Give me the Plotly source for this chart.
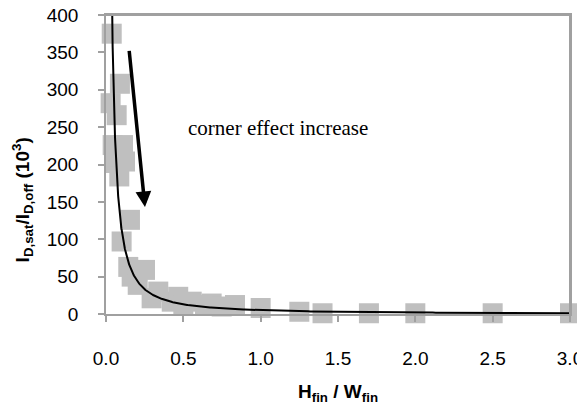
import numpy as np
import plotly.graph_objects as go

# Data (H_fin/W_fin vs I_D,sat/I_D,off in 10^3)
ratio_x = [0.030, 0.037, 0.043, 0.058, 0.069, 0.086, 0.090, 0.101, 0.110, 0.123,
           0.144, 0.155, 0.166, 0.205, 0.252, 0.295, 0.338, 0.425, 0.467, 0.500,
           0.554, 0.640, 0.683, 0.748, 0.834, 1.000, 1.250, 1.400, 1.700, 2.000,
           2.500, 3.000]
on_off = [282, 375, 226, 202, 266, 184, 308, 97, 226, 204,
          63, 126, 50, 39, 59, 21, 30, 16.5, 23, 12,
          16.5, 12, 14, 10, 12, 8, 3, 1, 1, 1,
          1, 1]

# Power trendline y = A * x^-B
TREND_A = 5.1
TREND_B = 1.35

x_ticks = [0.0, 0.5, 1.0, 1.5, 2.0, 2.5, 3.0]
y_ticks = [0, 50, 100, 150, 200, 250, 300, 350, 400]

trend_x = np.geomspace(min(ratio_x), max(ratio_x), 500)
trend_y = TREND_A * trend_x ** (-TREND_B)

fig = go.Figure()
fig.add_trace(go.Scatter(
    x=ratio_x, y=on_off, mode="markers",
    marker=dict(symbol="square", size=20, color="#BFBFBF"),
    cliponaxis=False, showlegend=False, hoverinfo="skip"))
fig.add_trace(go.Scatter(
    x=trend_x, y=trend_y, mode="lines",
    line=dict(color="black", width=2),
    showlegend=False, hoverinfo="skip"))

axis_font = dict(family="Arial, Liberation Sans, sans-serif", size=19, color="black")
frame_color = "#A0A0A0"

fig.update_xaxes(
    range=[0, 3], tickvals=x_ticks, ticktext=[f"{v:.1f}" for v in x_ticks],
    showgrid=False, zeroline=False, showline=True, linecolor=frame_color, linewidth=1.5,
    mirror=True, ticks="outside", ticklen=6, tickcolor=frame_color, tickwidth=1.5,
    tickfont=axis_font, ticklabelstandoff=20, automargin=False,
    ticklabeloverflow="allow")
fig.update_yaxes(
    range=[0, 400], tickvals=y_ticks,
    showgrid=False, zeroline=False, showline=True, linecolor=frame_color, linewidth=1.5,
    mirror=True, ticks="outside", ticklen=6, tickcolor=frame_color, tickwidth=1.5,
    tickfont=axis_font, ticklabelstandoff=16, automargin=False,
    ticklabeloverflow="allow")

# plot-area frame (top and right edges)
fig.add_shape(type="line", xref="paper", yref="paper", x0=0, y0=1, x1=1, y1=1,
              line=dict(color=frame_color, width=2), layer="above")
fig.add_shape(type="line", xref="paper", yref="paper", x0=1, y0=0, x1=1, y1=1,
              line=dict(color=frame_color, width=2), layer="above")

title_font = dict(family="Arial, Liberation Sans, sans-serif", size=19, color="black")

fig.add_annotation(
    text="<b>I<sub>D,sat</sub>/I<sub>D,off</sub> (10<sup>3</sup>)</b>",
    xref="paper", yref="paper", x=-0.181, y=0.38, textangle=-90,
    xanchor="center", yanchor="middle", showarrow=False, font=title_font)
fig.add_annotation(
    text="<b>H<sub>fin</sub> / W<sub>fin</sub></b>",
    xref="paper", yref="paper", x=0.5, y=-0.265,
    xanchor="center", yanchor="middle", showarrow=False, font=title_font)

fig.add_annotation(
    text="corner effect increase", x=1.112, y=249, xref="x", yref="y",
    showarrow=False, font=dict(family="Liberation Serif, Times New Roman, serif", size=21, color="black"))

fig.add_annotation(
    x=0.252, y=143, ax=0.149, ay=354, xref="x", yref="y", axref="x", ayref="y",
    text="", showarrow=True, arrowhead=2, arrowsize=0.9, arrowwidth=3.5, arrowcolor="black")

# The page body adds an 8px offset, so the figure is sized to fit the window
fig.update_layout(
    width=577, height=399,
    margin=dict(l=98, r=15, t=7, b=93),
    plot_bgcolor="white", paper_bgcolor="white")

fig.write_html("out.html", config={"displayModeBar": False})
